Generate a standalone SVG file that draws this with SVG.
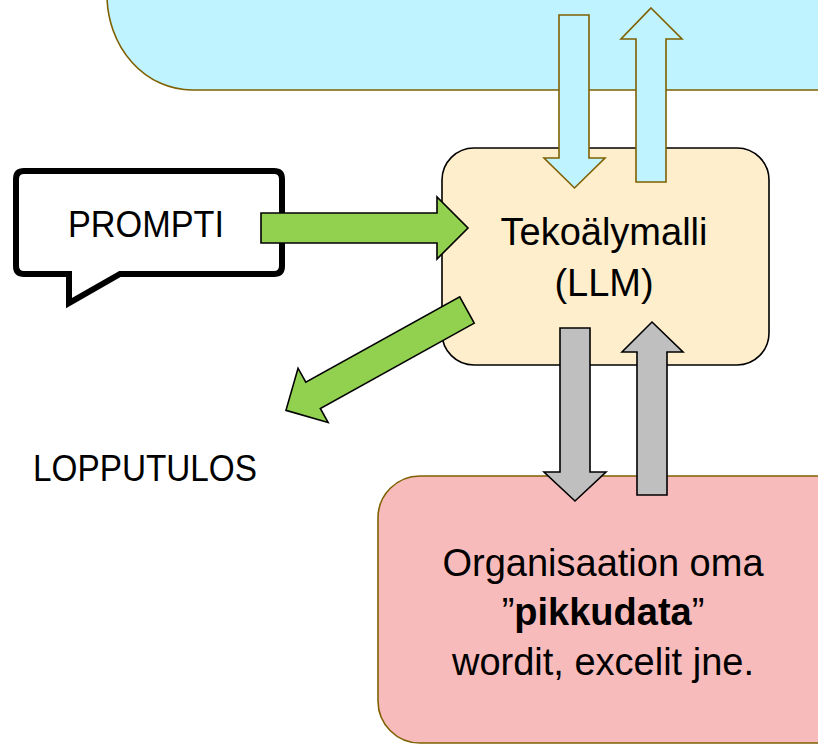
<svg xmlns="http://www.w3.org/2000/svg" width="818" height="745" viewBox="0 0 818 745">
<style>
text{font-family:"Liberation Sans",Arial,sans-serif;fill:#000}
.box{font-size:38px}
.blue{fill:#BFF3FF;stroke:#7F6000;stroke-width:1.6}
.grey{fill:#BFBFBF;stroke:#000;stroke-width:1.6}
.green{fill:#92D050;stroke:#000;stroke-width:1.6}
</style>
<rect width="818" height="745" fill="#fff"/>
<g id="cloud">
<rect class="blue" x="107" y="-130" width="800" height="220" rx="85" ry="95"/>
</g>
<g id="llm">
<rect x="442" y="148" width="327" height="217" rx="32" ry="32" fill="#FFEECB" stroke="#000" stroke-width="1.6"/>
<text class="box" x="604" y="245" text-anchor="middle">Tekoälymalli</text>
<text class="box" x="604" y="296" text-anchor="middle">(LLM)</text>
</g>
<g id="data">
<rect x="378" y="476" width="500" height="267" rx="42" ry="42" fill="#F8BBBB" stroke="#7F6000" stroke-width="1.6"/>
<text class="box" x="603" y="576" text-anchor="middle">Organisaation oma</text>
<text class="box" x="603" y="625" text-anchor="middle">”<tspan font-weight="bold">pikkudata</tspan>”</text>
<text class="box" x="603" y="675" text-anchor="middle">wordit, excelit jne.</text>
</g>
<g id="prompt">
<path d="M24,171 H274 Q282,171 282,179 V266 Q282,274 274,274 H120 L69,303 V274 H24 Q16,274 16,266 V179 Q16,171 24,171 Z" fill="#fff" stroke="#000" stroke-width="6" stroke-linejoin="miter"/>
<text x="68" y="237" font-size="37" textLength="156" lengthAdjust="spacingAndGlyphs">PROMPTI</text>
</g>
<g id="result">
<text x="33" y="481" font-size="37" textLength="224" lengthAdjust="spacingAndGlyphs">LOPPUTULOS</text>
</g>
<g id="connectors">
<path class="blue" d="M559,15 H589 V158 H605 L574.5,188 L544,158 H559 Z"/>
<path class="blue" d="M651,8 L682,39 H666 V182 H636 V39 H621 Z"/>
<path class="grey" d="M560,328 H590 V472 H606 L575,501 L544,472 H560 Z"/>
<path class="grey" d="M652,322 L683,352 H667 V495 H637 V352 H622 Z"/>
<path class="green" d="M261,213 H437 V197 L468,228 L437,259 V243 H261 Z"/>
<path class="green" transform="translate(467,310) rotate(151)" d="M0,-15 H176 V-31 L207,0 L176,31 V15 H0 Z"/>
</g>
</svg>
